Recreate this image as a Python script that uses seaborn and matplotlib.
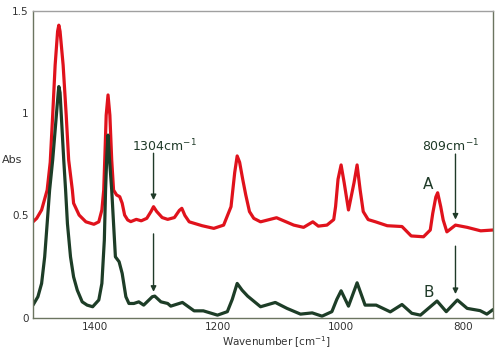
import numpy as np
import pandas as pd
import matplotlib
matplotlib.use("Agg")
import matplotlib.pyplot as plt
from matplotlib.ticker import FixedLocator
import seaborn as sns

# Spectrum A (red)
wn_a = [1500, 1494, 1486, 1477, 1472, 1468, 1464, 1460, 1458, 1456, 1451, 1446,
        1442, 1436, 1434, 1425, 1414, 1401, 1393, 1388, 1385, 1383, 1381, 1378,
        1375, 1372, 1369, 1364, 1359, 1355, 1351, 1346, 1341, 1332, 1324, 1315,
        1308, 1304, 1299, 1290, 1281, 1270, 1262, 1258, 1253, 1246, 1225, 1206,
        1190, 1178, 1172, 1168, 1164, 1159, 1154, 1148, 1141, 1130, 1104, 1076,
        1060, 1045, 1036, 1022, 1011, 1008, 1004, 999, 994, 987, 978, 973, 968,
        963, 955, 943, 924, 900, 885, 865, 854, 850, 845, 842, 837, 833, 827, 813,
        794, 772, 752]
abs_a = [0.469, 0.486, 0.527, 0.624, 0.76, 0.99, 1.235, 1.40, 1.43, 1.40, 1.235, 0.99,
         0.771, 0.624, 0.56, 0.502, 0.469, 0.457, 0.469, 0.527, 0.624, 0.80, 0.99, 1.089,
         0.99, 0.771, 0.624, 0.60, 0.592, 0.56, 0.502, 0.478, 0.47, 0.481, 0.474, 0.486,
         0.52, 0.543, 0.52, 0.49, 0.481, 0.49, 0.525, 0.535, 0.50, 0.469, 0.45, 0.437,
         0.453, 0.543, 0.71, 0.791, 0.76, 0.677, 0.60, 0.519, 0.486, 0.469, 0.489, 0.453,
         0.442, 0.469, 0.448, 0.453, 0.48, 0.543, 0.677, 0.747, 0.66, 0.527, 0.66, 0.747, 0.624,
         0.519, 0.48, 0.469, 0.45, 0.446, 0.40, 0.396, 0.429, 0.51, 0.59, 0.611, 0.543, 0.478,
         0.42, 0.453, 0.442, 0.425, 0.429]

# Spectrum B (green)
wn_b = [1500, 1492, 1486, 1481, 1477, 1473, 1468, 1462, 1459, 1458, 1456, 1454,
        1450, 1447, 1444, 1439, 1434, 1428, 1420, 1412, 1403, 1393, 1388, 1384,
        1382, 1380, 1378, 1376, 1372, 1369, 1366, 1360, 1355, 1349, 1344, 1336,
        1328, 1320, 1306, 1302, 1292, 1281, 1276, 1257, 1238, 1223, 1200, 1184,
        1176, 1168, 1160, 1151, 1130, 1106, 1087, 1065, 1046, 1030, 1014, 1006,
        999, 987, 973, 960, 942, 919, 900, 884, 870, 843, 828, 810, 794, 773,
        762, 752]
abs_b = [0.062, 0.103, 0.168, 0.298, 0.46, 0.624, 0.771, 0.99, 1.10, 1.13, 1.10, 0.99,
         0.771, 0.624, 0.46, 0.298, 0.20, 0.135, 0.078, 0.062, 0.054, 0.087, 0.168, 0.38,
         0.624, 0.79, 0.893, 0.79, 0.624, 0.46, 0.298, 0.274, 0.217, 0.103, 0.07, 0.07,
         0.078, 0.062, 0.103, 0.106, 0.078, 0.07, 0.057, 0.075, 0.034, 0.034, 0.013, 0.03,
         0.09, 0.168, 0.135, 0.106, 0.054, 0.075, 0.046, 0.018, 0.024, 0.008, 0.03, 0.09,
         0.132, 0.057, 0.171, 0.062, 0.062, 0.029, 0.065, 0.022, 0.013, 0.082, 0.03, 0.087,
         0.046, 0.035, 0.018, 0.04]

x_ticks = [1400, 1200, 1000, 800]
y_ticks = [0, 0.5, 1, 1.5]
y_tick_labels = ["0", "0.5", "1", "1.5"]

df = pd.concat([
    pd.DataFrame({"wn": wn_a, "abs": abs_a, "sample": "A"}),
    pd.DataFrame({"wn": wn_b, "abs": abs_b, "sample": "B"}),
])

sns.set_style("white")
fig = plt.figure(figsize=(5, 3.5), dpi=100)
ax = fig.add_axes([0.066, 0.092, 0.92, 0.877])

red = "#e0121c"
green = "#1d3d27"
sns.lineplot(data=df, x="wn", y="abs", hue="sample", palette={"A": red, "B": green},
             sort=False, linewidth=2.3, legend=False, ax=ax)
for ln in ax.get_lines():
    ln.set_solid_joinstyle("round")

ax.set_xlim(1500, 752)
ax.set_ylim(0, 1.5)
ax.xaxis.set_major_locator(FixedLocator(x_ticks))
ax.xaxis.set_minor_locator(FixedLocator([1300, 1100, 900]))
ax.yaxis.set_major_locator(FixedLocator(y_ticks))
ax.set_yticklabels(y_tick_labels)
ax.yaxis.set_minor_locator(FixedLocator([0.25, 0.75, 1.25]))
ax.tick_params(which="both", direction="in", color="#6b7560", labelcolor="#333333",
               labelsize=7.5, width=1)
ax.tick_params(which="major", length=6, pad=3)
ax.tick_params(which="minor", length=3)
for s in ax.spines.values():
    s.set_color("#6b7560")
    s.set_linewidth(1)
ax.spines["top"].set_color("#a0a0a0")

ax.set_xlabel("Wavenumber [cm$^{-1}$]", fontsize=7.5, color="#333333", va="center")
ax.xaxis.set_label_coords(0.529, -0.078)
ax.set_ylabel("")
fig.text(0.024, 0.543, "Abs", fontsize=8, color="#333333", ha="center", va="center")

tc = "#1f3a28"
ap = dict(arrowstyle="-|>", color=tc, lw=1, mutation_scale=8, shrinkA=0, shrinkB=0)
ax.annotate("", xy=(1304, 0.575), xytext=(1304, 0.804), arrowprops=ap)
ax.annotate("", xy=(1304, 0.127), xytext=(1304, 0.41), arrowprops=ap)
ax.annotate("", xy=(813, 0.48), xytext=(813, 0.80), arrowprops=ap)
ax.annotate("", xy=(813, 0.116), xytext=(813, 0.35), arrowprops=ap)
ax.text(1286, 0.84, "1304cm$^{-1}$", fontsize=9, color=tc, ha="center", va="center")
ax.text(821, 0.84, "809cm$^{-1}$", fontsize=9, color=tc, ha="center", va="center")
ax.text(857, 0.65, "A", fontsize=11, color=tc, ha="center", va="center")
ax.text(857, 0.125, "B", fontsize=11, color=tc, ha="center", va="center")

fig.savefig("out.png", dpi=100)
